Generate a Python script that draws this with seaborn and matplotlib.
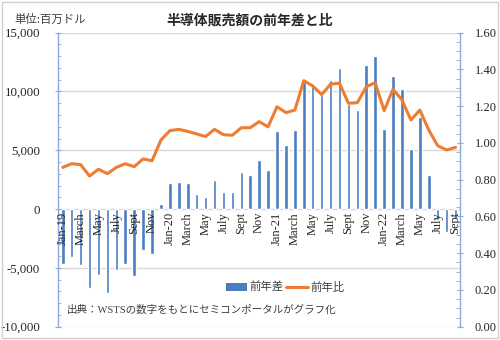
import numpy as np
import pandas as pd
import matplotlib
matplotlib.use("Agg")
import matplotlib.pyplot as plt
import seaborn as sns
from matplotlib.ticker import MultipleLocator, FuncFormatter, FixedLocator, FixedFormatter
from matplotlib.patches import Rectangle, Patch
from matplotlib.lines import Line2D

# ---------------- data ----------------
months = [f"{y}-{m:02d}" for y in (2019, 2020, 2021, 2022) for m in range(1, 13)][:45]
month_labels = ["Jan-19", "Feb", "March", "Apr", "May", "June", "July", "Aug", "Sept", "Oct", "Nov", "Dec",
                "Jan-20", "Feb", "March", "Apr", "May", "June", "July", "Aug", "Sept", "Oct", "Nov", "Dec",
                "Jan-21", "Feb", "March", "Apr", "May", "June", "July", "Aug", "Sept", "Oct", "Nov", "Dec",
                "Jan-22", "Feb", "March", "Apr", "May", "June", "July", "Aug", "Sept"]
diff = [-4650, -4070, -4780, -6710, -5600, -7100, -5200, -4670, -5660, -3500, -3780, 450,
        2220, 2300, 2190, 1290, 1050, 2500, 1430, 1490, 3130, 2860, 4140, 3290,
        6610, 5420, 6720, 10800, 10450, 9700, 10950, 12010, 8900, 8400, 12240, 13010,
        6840, 11300, 10180, 5080, 7830, 2930, -900, -1960, -850]
ratio = [0.867, 0.887, 0.882, 0.820, 0.857, 0.833, 0.867, 0.887, 0.871, 0.913, 0.903, 1.016,
         1.067, 1.074, 1.063, 1.049, 1.035, 1.074, 1.045, 1.042, 1.083, 1.083, 1.116, 1.088,
         1.197, 1.165, 1.179, 1.339, 1.310, 1.263, 1.320, 1.325, 1.216, 1.219, 1.306, 1.328,
         1.176, 1.292, 1.234, 1.125, 1.179, 1.071, 0.985, 0.962, 0.976]
series_names = ["前年差", "前年比"]
title = "半導体販売額の前年差と比"
unit_text = "単位:百万ドル"
source_text = "出典：WSTSの数字をもとにセミコンポータルがグラフ化"

df = pd.DataFrame({"month": months, "diff": diff, "ratio": ratio, "pos": np.arange(len(months))})

# ---------------- style ----------------
sns.set_style("white")
SERIF = ["Liberation Serif", "Noto Sans CJK JP", "DejaVu Sans"]
JP = ["Noto Sans CJK JP", "DejaVu Sans"]
plt.rcParams["font.family"] = SERIF
TXT = "#262626"
BLUE = "#4A7EC0"
ORANGE = "#ED7D31"
AXC = "#8EA9DB"
GRID = "#D9D9D9"

fig = plt.figure(figsize=(5.0, 3.4), dpi=100)
ax = fig.add_axes([58.3 / 500, 1 - 326.7 / 340, (460 - 58.3) / 500, (326.7 - 32.7) / 340])

sns.barplot(data=df, x="month", y="diff", color=BLUE, width=0.4, saturation=1,
            ax=ax, order=months, zorder=2)

ax2 = ax.twinx()
sns.lineplot(data=df, x="pos", y="ratio", color=ORANGE, lw=2.2, ax=ax2, zorder=3)

# left axis
ax.set_ylim(-10000, 15000)
ax.set_xlim(-0.5, len(months) - 0.5)
ax.yaxis.set_major_locator(MultipleLocator(5000))
ax.yaxis.set_minor_locator(MultipleLocator(1000))
ax.yaxis.set_major_formatter(FuncFormatter(lambda v, p: f"{int(v):,}"))
ax.grid(False)
ax.set_axisbelow(False)
for gv in ax.get_yticks():
    if -10000 <= gv <= 15000:
        ax.axhline(gv, color=GRID, lw=1, zorder=0.5)
ax.set_xlabel("")
ax.set_ylabel("")
ax.spines["top"].set_visible(False)
ax.spines["right"].set_visible(False)
ax.spines["left"].set_color(AXC)
ax.spines["left"].set_linewidth(1)
ax.tick_params(axis="y", which="major", direction="inout", length=4, color=AXC,
               labelsize=9.3, labelcolor=TXT, pad=11)
ax.tick_params(axis="y", which="minor", direction="in", length=2.5, color=AXC, left=True)

# right axis
ax2.set_ylim(0, 1.6)
ax2.set_xlim(-0.5, len(months) - 0.5)
ax2.yaxis.set_major_locator(MultipleLocator(0.2))
ax2.yaxis.set_minor_locator(MultipleLocator(0.05))
ax2.yaxis.set_major_formatter(FuncFormatter(lambda v, p: f"{v:.2f}"))
ax2.set_xlabel("")
ax2.set_ylabel("")
for s in ("top", "bottom", "left"):
    ax2.spines[s].set_visible(False)
ax2.spines["right"].set_color(AXC)
ax2.spines["right"].set_linewidth(1)
ax2.tick_params(axis="y", which="major", direction="inout", length=5, color=AXC,
                labelsize=9, labelcolor=TXT, pad=8)
ax2.tick_params(axis="y", which="minor", direction="in", length=3, color=AXC, right=True)
ax2.tick_params(axis="x", bottom=False, labelbottom=False, top=False, labeltop=False)
ax2.grid(False)

# x axis labels at zero line
ax.spines["bottom"].set_position(("data", 0))
ax.spines["bottom"].set_visible(False)
ax.xaxis.set_major_locator(FixedLocator(list(range(0, len(months), 2))))
ax.xaxis.set_major_formatter(FixedFormatter(month_labels[::2]))
ax.tick_params(axis="x", length=0, pad=2, labelsize=9, labelcolor=TXT, labelrotation=90,
               bottom=True, labelbottom=True)
ax.xaxis.set_zorder(3)
ax.yaxis.set_zorder(3)
for lab in ax.get_xticklabels():
    lab.set_family(SERIF)
    lab.set_va("top")
    lab.set_ha("center")

# ---------------- texts ----------------
fig.text(249.5 / 500, 1 - 20 / 340, title, ha="center", va="center", fontsize=10,
         fontweight="bold", color=TXT, family=JP)
fig.text(14 / 500, 1 - 19 / 340, unit_text, ha="left", va="center", fontsize=8.2,
         color="#404040", family=JP)
fig.text(67 / 500, 1 - 310 / 340, source_text, ha="left", va="center", fontsize=7.6,
         color="#404040", family=SERIF)

handles = [Patch(facecolor=BLUE, edgecolor="none"), Line2D([0], [0], color=ORANGE, lw=2.2)]
fig.legend(handles, series_names, loc="center", bbox_to_anchor=(285 / 500, 1 - 287 / 340),
           ncol=2, frameon=False, prop={"family": JP, "size": 8.2}, handlelength=1.9,
           handletextpad=0.2, columnspacing=0.25, labelcolor="#404040")

fig.patches.append(Rectangle((2 / 500, 2 / 340), 496 / 500, 336 / 340, transform=fig.transFigure,
                             fill=False, edgecolor="#D0D0D0", lw=1))

fig.savefig("out.png", dpi=100)
